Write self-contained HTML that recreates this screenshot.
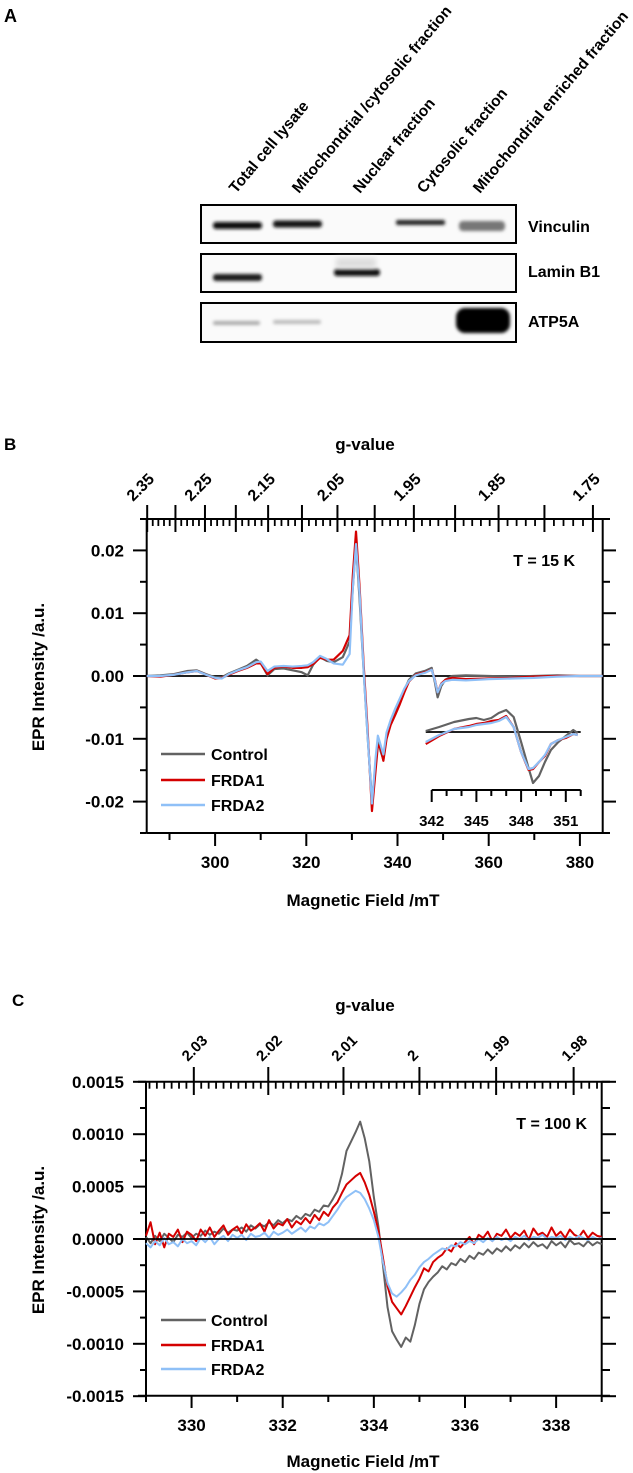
<!DOCTYPE html>
<html><head><meta charset="utf-8"><style>
html,body{margin:0;padding:0;background:#fff;}
svg{display:block;font-family:"Liberation Sans",Arial,sans-serif;font-weight:bold;}
</style></head><body>
<svg id="fig" width="633" height="1473" viewBox="0 0 633 1473" xmlns="http://www.w3.org/2000/svg">
<defs>
<filter id="blur" x="-20%" y="-100%" width="140%" height="300%"><feGaussianBlur stdDeviation="1.6"/></filter>
<filter id="blur2" x="-20%" y="-100%" width="140%" height="300%"><feGaussianBlur stdDeviation="2.6"/></filter>
</defs>
<!-- Panel A -->
<g>
<text x="4" y="22" font-size="18">A</text>
<g font-size="15.5">
<text transform="translate(236,194) rotate(-50)">Total cell lysate</text>
<text transform="translate(299,194) rotate(-50)">Mitochondrial /cytosolic fraction</text>
<text transform="translate(360,194) rotate(-50)">Nuclear fraction</text>
<text transform="translate(424,194) rotate(-50)">Cytosolic fraction</text>
<text transform="translate(480,194) rotate(-50)">Mitochondrial enriched fraction</text>
</g>
<rect x="201" y="205" width="315" height="38" fill="#fafafa" stroke="#000" stroke-width="2"/>
<rect x="201" y="254" width="315" height="38" fill="#fafafa" stroke="#000" stroke-width="2"/>
<rect x="201" y="303" width="315" height="39" fill="#fafafa" stroke="#000" stroke-width="2"/>
<g filter="url(#blur)">
<rect x="213" y="222" width="49" height="7" rx="3" fill="#111"/>
<rect x="273" y="220.5" width="49" height="7" rx="3" fill="#151515"/>
<rect x="396" y="220" width="49" height="5" rx="2" fill="#222"/>
<rect x="459" y="221" width="46" height="10" rx="4" fill="#777"/>
<rect x="213" y="274" width="49" height="7" rx="3" fill="#1a1a1a"/>
<rect x="334" y="269" width="46" height="7" rx="3" fill="#111"/>
<rect x="213" y="321" width="47" height="4" rx="2" fill="#aaa"/>
<rect x="273" y="320" width="48" height="4" rx="2" fill="#bbb"/>
<rect x="456" y="308" width="54" height="25" rx="9" fill="#000"/>
</g>
<rect x="336" y="258" width="40" height="10" fill="#ddd" filter="url(#blur2)"/>
<g font-size="16">
<text x="528" y="232">Vinculin</text>
<text x="528" y="277">Lamin B1</text>
<text x="528" y="327">ATP5A</text>
</g>
</g>
<g id="pb"></g>
<g id="pc"></g>
</svg>
<script>
// ---- Panel B data (field in mT, intensity in units of 1e-3) ----
const fieldsB = [285,288,291,294,296,298,300,301.5,303,305,307,309,310,311.5,313,315,317,319,320.3,321.5,323,324.5,326,328,329.5,330.2,330.9,331.7,332.6,333.4,334.4,335.2,335.7,336.3,336.9,337.6,338.5,339.5,340.5,341.5,342.5,344,346,347.5,348.2,348.8,349.6,350.5,352,355,360,365,370,375,380,385];
const controlB = [0,0.1,0.3,0.8,0.9,0.3,-0.2,-0.2,0.4,1.0,1.6,2.6,2.1,0.1,1.1,1.2,0.9,0.6,0.1,1.8,3.0,2.4,2.2,3.0,5.5,14,21,12,0.5,-9,-20,-14,-10,-12,-13.3,-9.5,-7.5,-5.8,-4.0,-2.2,-0.6,0.4,0.8,1.3,-1.0,-3.4,-1.6,-0.6,0.0,0.1,0,-0.1,0,0.1,0,0];
const frda1B = [0,-0.1,0.2,0.6,0.8,0.2,-0.4,-0.3,0.2,0.8,1.3,2.0,2.0,0.3,1.3,1.5,1.3,1.3,1.4,1.9,2.9,2.6,2.6,4.0,6.5,16,23,14,1.5,-8,-21.5,-15,-11,-11.5,-13.5,-10,-7.8,-6.2,-4.5,-2.6,-0.9,0.2,0.6,1.0,-0.6,-2.6,-1.2,-0.6,-0.3,-0.5,-0.4,-0.3,-0.1,0,0,0];
const frda2B = [0,0,0.2,0.6,0.8,0.2,-0.3,-0.4,0.3,0.9,1.4,2.2,2.3,0.8,1.5,1.6,1.5,1.6,1.7,2.2,3.2,2.7,2.0,1.8,3.5,14,21,13,0.5,-9,-20.3,-13,-9.5,-11,-12.5,-9,-7,-5.2,-3.6,-2.0,-0.8,0.1,0.5,1.0,-0.7,-2.6,-1.3,-0.8,-0.6,-0.7,-0.5,-0.4,-0.3,-0.1,0,0];
const yTicksB = [-0.02,-0.01,0,0.01,0.02];
const yTickLabelsB = ["-0.02","-0.01","0.00","0.01","0.02"];
const xTicksB = [300,320,340,360,380];
const gLabelsB = [2.35,2.25,2.15,2.05,1.95,1.85,1.75];
// inset (field in mT, relative intensity)
const fieldsI = [341.6,342.5,343.5,344.5,345,345.5,346,346.5,347,347.5,348,348.5,348.8,349.2,349.6,350,350.5,351,351.5,351.8];
const controlI = [1,5,10,13,14,12,14,19,22,15,-10,-36,-51,-44,-30,-18,-10,-4,2,-1];
const frda1I = [-12,-4,3,6,8,9,11,12,16,5,-20,-38,-37,-30,-24,-12,-8,-6,-2,-3];
const frda2I = [-10,-3,3,5,7,8,9,11,15,5,-20,-37,-36,-30,-23,-12,-8,-5,-2,-3];
const xTicksI = [342,345,348,351];
// ---- Panel C data (field in mT, step 0.1 from 329.0, intensity in 1e-4) ----
const fieldStartC = 329.0, fieldStepC = 0.1;
const controlC = [0.2,-0.4,0.3,-0.2,0.5,0.1,-0.3,0.4,0.2,0.6, 0.1,0.5,0.3,0.8,0.4,0.7,0.5,1.0,0.6,0.9, 0.8,1.1,0.7,1.3,1.0,1.4,1.2,1.6,1.3,1.8, 1.5,1.9,1.7,2.2,1.9,2.4,2.2,2.8,2.6,3.2, 3.1,3.8,4.6,6.2,8.4,9.3,10.2,11.2,9.6,7.4, 4.0,1.2,-2.5,-6.5,-8.8,-9.6,-10.3,-9.4,-9.8,-8.2, -6.2,-4.8,-4.1,-3.6,-3.2,-2.6,-2.9,-2.3,-2.5,-1.9, -2.2,-1.6,-1.9,-1.3,-1.5,-1.0,-1.4,-0.9,-1.2,-0.7, -1.1,-0.6,-0.9,-0.4,-0.8,-0.3,-0.7,-0.5,-0.9,-0.2, -0.6,-0.3,-0.8,-0.1,-0.5,-0.4,-0.7,-0.2,-0.6,-0.3, -0.5];
const frda1C = [0.3,1.6,-0.5,0.6,-0.8,0.5,0.2,0.9,-0.3,0.7, 0.4,-0.2,0.9,0.3,1.1,0.2,0.8,1.3,0.4,0.9, 1.2,0.5,1.4,0.8,1.1,1.5,0.7,1.8,1.0,1.5, 1.3,1.9,1.1,1.7,1.4,2.0,1.5,2.3,1.8,2.6, 2.2,3.0,3.5,4.4,5.2,5.6,6.0,6.3,5.4,4.2, 2.6,0.8,-1.8,-4.5,-6.0,-6.6,-7.2,-6.4,-5.5,-4.6, -3.8,-2.8,-3.1,-2.2,-1.8,-1.5,-0.9,-1.2,-0.4,-0.8, -0.3,0.2,-0.5,0.4,0.1,0.7,-0.2,0.5,0.3,0.9, 0.1,0.6,0.3,0.8,-0.1,1.0,0.4,0.6,0.2,1.1, 0.3,0.7,0.1,0.9,0.4,0.2,0.8,0.1,0.6,0.3, 0.2];
const frda2C = [-0.4,-0.8,-0.2,-0.6,0.1,-0.5,-0.3,-0.7,0.0,-0.4, -0.2,-0.6,0.1,-0.3,0.2,-0.5,0.0,0.3,-0.2,0.4, 0.1,0.4,-0.1,0.5,0.2,0.3,0.6,0.1,0.7,0.4, 0.6,0.9,0.5,0.8,1.1,0.7,1.2,1.0,1.5,1.3, 1.6,2.2,2.8,3.5,4.0,4.3,4.6,4.4,3.8,2.9, 1.8,0.2,-2.2,-4.2,-5.2,-5.5,-5.1,-4.6,-3.9,-3.4, -2.7,-2.2,-1.9,-1.5,-1.2,-0.9,-1.0,-0.6,-0.7,-0.3, -0.5,-0.2,-0.4,0.0,-0.3,0.1,-0.2,0.2,-0.1,0.1, -0.2,0.2,0.0,0.3,-0.1,0.2,0.1,0.4,0.0,0.2, 0.1,0.3,-0.1,0.2,0.0,0.3,0.1,-0.1,0.2,0.0, 0.1];
const yTicksC = [-0.0015,-0.001,-0.0005,0,0.0005,0.001,0.0015];
const yTickLabelsC = ["-0.0015","-0.0010","-0.0005","0.0000","0.0005","0.0010","0.0015"];
const xTicksC = [330,332,334,336,338];
const gLabelsC = [2.03,2.02,2.01,2.00,1.99,1.98];
const gLabelTextC = ["2.03","2.02","2.01","2","1.99","1.98"];
const seriesNames = ["Control","FRDA1","FRDA2"];
const seriesColors = ["#626262","#d40000","#8fc0f7"];

const NS = "http://www.w3.org/2000/svg";
const K = 670; // field (mT) * g constant

function mk(parent, tag, attrs, name) {
  const el = document.createElementNS(NS, tag);
  for (const k in attrs) el.setAttribute(k, attrs[k]);
  
  
  parent.appendChild(el);
  return el;
}
function ln(p, x1, y1, x2, y2, name, w) {
  return mk(p, 'line', {x1: x1, y1: y1, x2: x2, y2: y2, stroke: '#000', 'stroke-width': w || 2}, name);
}
function tx(p, x, y, s, size, anchor, name, tr) {
  const a = {x: x, y: y, 'font-size': size, 'text-anchor': anchor || 'start'};
  if (tr) a.transform = tr;
  const t = mk(p, 'text', a, name);
  t.textContent = s;
  return t;
}
function poly(p, xs, ys, fx, fy, color, name, w) {
  const pts = xs.map((x, i) => fx(x).toFixed(2) + ',' + fy(ys[i]).toFixed(2)).join(' ');
  return mk(p, 'polyline', {points: pts, fill: 'none', stroke: color, 'stroke-width': w || 2.2, 'stroke-linejoin': 'round'}, name);
}

// ================= Panel B =================
(function () {
  const g = document.getElementById('pb');
  const L = 146.7, R = 602.7, T = 519, B = 833;
  const xB = f => L + (f - 285) / 100 * (R - L);
  const yB = v => 676 - v * 6.28; // v in 1e-3
  tx(g, 4, 450, 'B', 17, 'start', 'panel-b-label');
  tx(g, 365, 450, 'g-value', 17, 'middle', 'top-axis-title');
  for (let gi = 235; gi >= 175; gi--) {
    const gv = gi / 100;
    const x = xB(K / gv);
    if (gi % 5 === 0) ln(g, x, 505, x, 532, 'g-major-tick');
    else ln(g, x, 519, x, 526, 'g-minor-tick', 1.8);
  }
  gLabelsB.forEach(gv => {
    const x = xB(K / gv);
    tx(g, x - 14, 502, gv.toFixed(2), 16, 'start', 'g-tick-label', 'rotate(-45 ' + (x - 14) + ' 502)');
  });
  ln(g, L, T, 609, T, 'top-axis');
  ln(g, L, T, L, B, 'left-axis');
  ln(g, R, T, R, B, 'right-axis');
  ln(g, L, B, 609, B, 'bottom-axis');
  for (let i = -5; i <= 5; i++) {
    const y = yB(i * 5);
    const major = i % 2 === 0;
    ln(g, major ? 133 : 140, y, L, y, 'y-tick-left');
    ln(g, R, y, major ? 616 : 610, y, 'y-tick-right');
  }
  yTicksB.forEach((v, i) => tx(g, 124, yB(v * 1000) + 6, yTickLabelsB[i], 17, 'end', 'y-tick-label'));
  for (let f = 290; f <= 380; f += 10) {
    const x = xB(f);
    ln(g, x, B, x, f % 20 === 0 ? 846 : 840, 'x-tick');
  }
  xTicksB.forEach(f => tx(g, xB(f), 868, String(f), 17, 'middle', 'x-tick-label'));
  tx(g, 363, 906, 'Magnetic Field /mT', 17, 'middle', 'x-axis-title');
  tx(g, 44, 677, 'EPR Intensity /a.u.', 17, 'middle', 'y-axis-title', 'rotate(-90 44 677)');
  tx(g, 575, 566, 'T = 15 K', 16, 'end', 'temperature-label');
  ln(g, L, yB(0), R, yB(0), 'zero-line', 1.8);
  const ser = [controlB, frda1B, frda2B];
  ser.forEach((s, i) => poly(g, fieldsB, s, xB, yB, seriesColors[i], 'series-' + seriesNames[i].toLowerCase()));
  const xI = f => 431.7 + (f - 342) * 14.9;
  const yI = v => 732 - v;
  ln(g, xI(341.6), 732, xI(352), 732, 'inset-zero-line', 1.8);
  ln(g, 431.7, 790, xI(352), 790, 'inset-x-axis');
  for (let f = 342; f <= 352; f++) {
    ln(g, xI(f), 790, xI(f), (f % 3 === 0) ? 802 : 796, 'inset-tick');
  }
  xTicksI.forEach(f => tx(g, xI(f), 826, String(f), 15, 'middle', 'inset-tick-label'));
  const serI = [controlI, frda1I, frda2I];
  serI.forEach((s, i) => poly(g, fieldsI, s, xI, yI, seriesColors[i], 'inset-series-' + seriesNames[i].toLowerCase()));
  const ly = [754, 780, 805];
  seriesNames.forEach((n, i) => {
    ln(g, 161, ly[i], 205, ly[i], 'legend-line-' + n.toLowerCase(), 2.6).setAttribute('stroke', seriesColors[i]);
    tx(g, 211, ly[i] + 6, n, 16, 'start', 'legend-label-' + n.toLowerCase());
  });
})();

// ================= Panel C =================
(function () {
  const g = document.getElementById('pc');
  const L = 146, R = 601.7, T = 1081.7, B = 1395.7;
  const xC = f => L + (f - 329) / 10 * (R - L);
  const yC = v => 1239 - v * 10.48; // v in 1e-4
  tx(g, 12, 1006, 'C', 17, 'start', 'panel-c-label');
  tx(g, 365, 1011, 'g-value', 17, 'middle', 'top-axis-title');
  for (let gi = 2036; gi >= 1977; gi--) {
    const gv = gi / 1000;
    const x = xC(K / gv);
    if (x < L - 0.5 || x > R + 0.5) continue;
    if (gi % 10 === 0) ln(g, x, 1067, x, 1095, 'g-major-tick');
    else ln(g, x, T, x, T + 7, 'g-minor-tick', 1.8);
  }
  gLabelsC.forEach((gv, i) => {
    const x = xC(K / gv);
    tx(g, x - 6, 1062, gLabelTextC[i], 15, 'start', 'g-tick-label', 'rotate(-45 ' + (x - 6) + ' 1062)');
  });
  ln(g, 138, T, 610, T, 'top-axis');
  ln(g, L, T, L, B, 'left-axis');
  ln(g, R, T, R, B, 'right-axis');
  ln(g, 138, B, 610, B, 'bottom-axis');
  for (let i = -6; i <= 6; i++) {
    const y = yC(i * 2.5);
    const major = i % 2 === 0;
    ln(g, major ? 133 : 140, y, L, y, 'y-tick-left');
    ln(g, R, y, major ? 616 : 610, y, 'y-tick-right');
  }
  yTicksC.forEach((v, i) => tx(g, 124, yC(v * 10000) + 6, yTickLabelsC[i], 17, 'end', 'y-tick-label'));
  for (let f = 329; f <= 339; f++) {
    const x = xC(f);
    ln(g, x, B, x, (f % 2 === 0) ? 1408 : 1402, 'x-tick');
  }
  xTicksC.forEach(f => tx(g, xC(f), 1431, String(f), 17, 'middle', 'x-tick-label'));
  tx(g, 363, 1467, 'Magnetic Field /mT', 17, 'middle', 'x-axis-title');
  tx(g, 44, 1240, 'EPR Intensity /a.u.', 17, 'middle', 'y-axis-title', 'rotate(-90 44 1240)');
  tx(g, 587, 1129, 'T = 100 K', 16, 'end', 'temperature-label');
  const ser = [controlC, frda1C, frda2C];
  ser.forEach((s, i) => {
    const xs = s.map((v, j) => fieldStartC + j * fieldStepC);
    poly(g, xs, s, xC, yC, seriesColors[i], 'series-' + seriesNames[i].toLowerCase(), 2);
  });
  ln(g, L, yC(0), 610, yC(0), 'zero-line', 1.8);
  const ly = [1320, 1345, 1369];
  seriesNames.forEach((n, i) => {
    ln(g, 161, ly[i], 206, ly[i], 'legend-line-' + n.toLowerCase(), 2.6).setAttribute('stroke', seriesColors[i]);
    tx(g, 211, ly[i] + 6, n, 16, 'start', 'legend-label-' + n.toLowerCase());
  });
})();
</script>
</body></html>
